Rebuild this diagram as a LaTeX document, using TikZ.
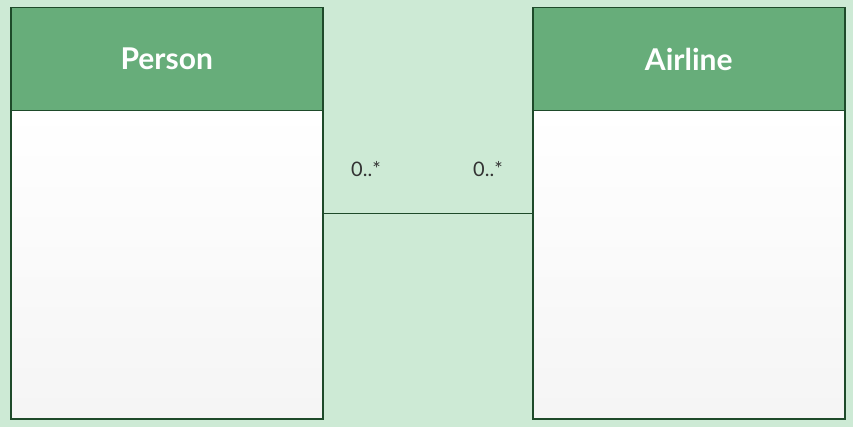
\documentclass[tikz,border=0pt]{standalone}
\usepackage{fontspec}
\setmainfont{Lato}
\begin{document}
\begin{tikzpicture}[x=1pt,y=-1pt,
  header/.style={draw=hdrline,line width=1.5pt,fill=hdrgreen,minimum width=312pt,minimum height=103pt,inner sep=0pt,anchor=north west,text=white,font=\fontsize{30}{34}\selectfont\bfseries},
  body/.style={draw=hdrline,line width=1.5pt,top color=white,bottom color=gray!8,minimum width=312pt,minimum height=308pt,inner sep=0pt,anchor=north west},
  mult/.style={font=\fontsize{20}{24}\selectfont,text=black!80},
  assoc/.style={draw=hdrline,line width=1.2pt}]
\definecolor{bggreen}{HTML}{CDEAD5}
\definecolor{hdrgreen}{HTML}{67AD7A}
\definecolor{hdrline}{HTML}{1E4A2A}
\useasboundingbox (0,0) rectangle (853,427);
\fill[bggreen] (0,0) rectangle (853,427);
\node[body] (pbody) at (10,110) {};
\node[header] (phead) at (10,7) {Person};
\node[body] (abody) at (532,110) {};
\node[header] (ahead) at (532,7) {Airline};
\draw[assoc] ([yshift=51pt]pbody.east) -- ([yshift=51pt]abody.west);
\node[mult] (m1) at (366,169) {0..*};
\node[mult] (m2) at (488,169) {0..*};
\end{tikzpicture}
\end{document}
